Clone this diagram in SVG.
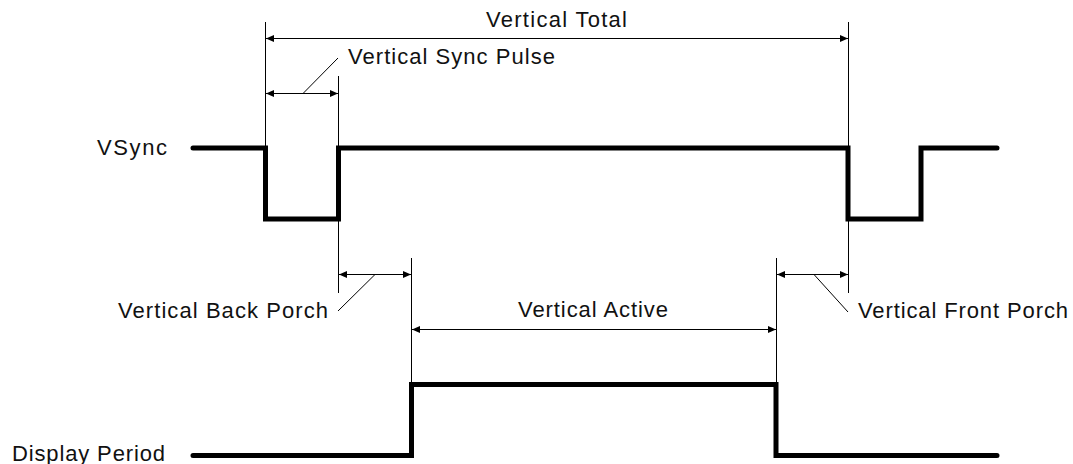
<svg xmlns="http://www.w3.org/2000/svg" width="1073" height="464" viewBox="0 0 1073 464">
<style>
  .sig { fill: none; stroke: #000; stroke-width: 5; stroke-linejoin: miter; stroke-linecap: round; }
  .thin { fill: none; stroke: #000; stroke-width: 1; }
  .dim { fill: none; stroke: #000; stroke-width: 1; marker-start: url(#arr); marker-end: url(#arr); }
  .lbl { font-family: "Liberation Sans", Arial, sans-serif; font-size: 22px; fill: #111; }
</style>
<defs>
  <marker id="arr" viewBox="0 0 8 7" refX="8" refY="3.5" markerWidth="8" markerHeight="7" markerUnits="userSpaceOnUse" orient="auto-start-reverse">
    <path d="M0,0 L8,3.5 L0,7 z" fill="#000"/>
  </marker>
</defs>
<rect width="1073" height="464" fill="#fff"/>

<g id="vsync">
  <text class="lbl" x="97" y="155" textLength="70" lengthAdjust="spacing">VSync</text>
  <path class="sig" d="M193,148 H265.5 V219 H338.5 V148 H848 V219 H921 V148 H997"/>
</g>

<g id="display-period">
  <text class="lbl" x="12" y="461" textLength="153" lengthAdjust="spacing">Display Period</text>
  <path class="sig" d="M193,455.5 H411.5 V384.5 H776 V455.5 H997"/>
</g>

<g id="label-vertical-total">
  <text class="lbl" x="486" y="27" textLength="141" lengthAdjust="spacing">Vertical Total</text>
</g>
<g id="label-vertical-sync-pulse">
  <text class="lbl" x="348" y="64" textLength="207" lengthAdjust="spacing">Vertical Sync Pulse</text>
</g>
<g id="label-vertical-back-porch">
  <text class="lbl" x="118" y="318" textLength="210" lengthAdjust="spacing">Vertical Back Porch</text>
</g>
<g id="label-vertical-active">
  <text class="lbl" x="518" y="317" textLength="150" lengthAdjust="spacing">Vertical Active</text>
</g>
<g id="label-vertical-front-porch">
  <text class="lbl" x="858" y="318" textLength="210" lengthAdjust="spacing">Vertical Front Porch</text>
</g>

<g id="connectors">
  <!-- extension lines -->
  <line class="thin" x1="265.5" y1="22" x2="265.5" y2="148"/>
  <line class="thin" x1="338.5" y1="76" x2="338.5" y2="293"/>
  <line class="thin" x1="848.5" y1="22" x2="848.5" y2="293"/>
  <line class="thin" x1="411.5" y1="258" x2="411.5" y2="385"/>
  <line class="thin" x1="776.5" y1="258" x2="776.5" y2="385"/>
  <!-- dimension arrows -->
  <line class="dim" x1="266" y1="38.5" x2="848" y2="38.5"/>
  <line class="dim" x1="266" y1="93.5" x2="338" y2="93.5"/>
  <line class="dim" x1="339" y1="274.5" x2="411" y2="274.5"/>
  <line class="dim" x1="777" y1="274.5" x2="848" y2="274.5"/>
  <line class="dim" x1="412" y1="329.5" x2="776" y2="329.5"/>
  <!-- leaders -->
  <line class="thin" x1="303" y1="93.5" x2="338" y2="58"/>
  <line class="thin" x1="375" y1="274.5" x2="338" y2="311"/>
  <line class="thin" x1="814" y1="274.5" x2="848" y2="312"/>
</g>
</svg>
